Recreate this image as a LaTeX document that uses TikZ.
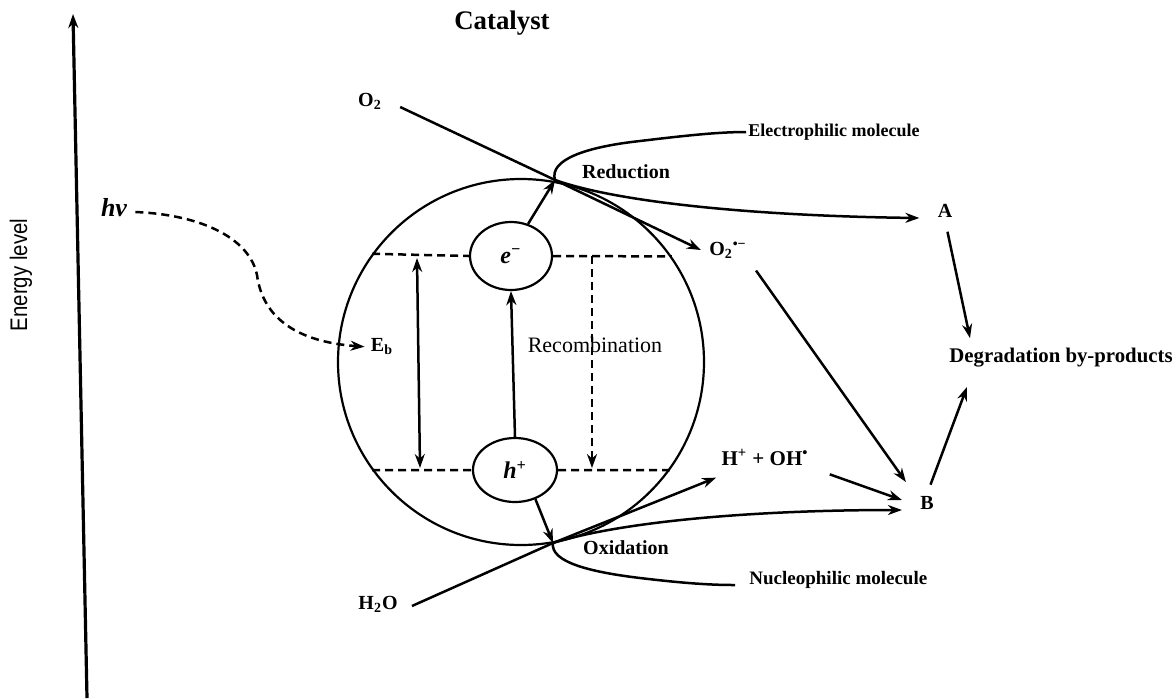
\documentclass[tikz,border=0pt]{standalone}
\usepackage{fontspec}
\setmainfont{Liberation Serif}
\newfontfamily\axisfont{Liberation Sans}
\usetikzlibrary{arrows.meta,shapes.geometric,calc}
\begin{document}
\begin{tikzpicture}[x=0.5pt,y=-0.5pt,
  >={Stealth[length=7pt,width=5pt]},
  ln/.style={line width=1.25pt},
  dsh/.style={line width=1.25pt, dash pattern=on 4pt off 2.5pt},
  lbl/.style={font=\bfseries\fontsize{10}{12}\selectfont, inner sep=1pt},
  carrier/.style={ellipse, draw, line width=1.1pt, inner sep=0pt, font=\bfseries\itshape\fontsize{12}{14}\selectfont},
]
\useasboundingbox (0,0) rectangle (1174,698);

% energy axis
\coordinate (axb) at (87,698);
\coordinate (axt) at (73,14);
\draw[line width=1.6pt,->] (axb) -- (axt);
\node[rotate=90, inner sep=0pt] (elev) at (21,275) {\scalebox{0.85}[1]{\axisfont\fontsize{12}{14}\selectfont Energy level}};

% title
\node[font=\bfseries\fontsize{13.4}{15}\selectfont] (catl) at (502,23) {Catalyst};

% catalyst particle
\node[circle, draw, line width=1.1pt, minimum size=183pt, inner sep=0pt] (cat) at (521,362) {};
\node[carrier, minimum width=41pt, minimum height=34pt] (el) at (511,256) {e\textsuperscript{−}};
\node[carrier, minimum width=42pt, minimum height=32pt] (ho) at (515,470) {h\textsuperscript{+}};

% band levels
\draw[dsh] (cat.144.6) -- (el.west);
\draw[dsh] (el.east) -- (cat.35.4);
\draw[dsh] (cat.216.2) -- (ho.west);
\draw[dsh] (ho.east) -- (cat.-36.2);

% band gap
\coordinate (eg1) at (417,258);
\coordinate (eg2) at (420,468);
\draw[ln,<->] (eg1) -- (eg2);
\node[lbl] (eb) at (382,347) {E\textsubscript{b}};

% excitation and recombination
\draw[ln,->] (ho.north) -- (el.south);
\coordinate (rc1) at (592,256);
\coordinate (rc2) at (592,468);
\draw[dsh,->] (rc1) -- (rc2);
\node[font=\fontsize{11}{13}\selectfont, inner sep=1pt] (recl) at (595,345) {Recombination};

% photon
\node[font=\bfseries\itshape\fontsize{13}{15}\selectfont, inner sep=1pt] (hv) at (114,208) {hv};
\draw[dsh,->,shorten >=2pt] ($(hv.east)+(6,4)$) .. controls (205,215) and (250,240) .. (257,275)
   .. controls (263,320) and (300,342) .. (eb.west);

% reduction side
\coordinate (R) at (555,180);
\draw[ln,->] (el.62) -- (R);
\node[lbl] (o2) at (370,101) {O\textsubscript{2}};
\node[lbl] (o2r) at (728,250) {O\textsubscript{2}\textsuperscript{•−}};
\draw[ln,->] ($(o2.east)+(16,6)$) -- (R) -- ($(o2r.west)+(-6,0)$);
\node[lbl] (redl) at (626,172) {Reduction};
\node[font=\bfseries\fontsize{9}{11}\selectfont, inner sep=1pt, anchor=west] (elec) at (746,132) {Electrophilic molecule};
\draw[ln] (R) .. controls (549,160) and (585,147) .. (640,141)
   .. controls (690,135) and (720,132) .. (elec.west);
\node[lbl] (A) at (945,211) {A};
\draw[ln,->] (R) .. controls (620,203) and (760,216) .. ($(A.west)+(-16,7)$);

% oxidation side
\coordinate (X) at (553,543);
\draw[ln,->] (ho.-55) -- (X);
\node[lbl] (h2o) at (378,604) {H\textsubscript{2}O};
\node[font=\bfseries\fontsize{10.5}{12}\selectfont, inner sep=1pt] (hoh) at (765,457) {H\textsuperscript{+} + OH\textsuperscript{•}};
\draw[ln,->] ($(h2o.east)+(12,2)$) -- (X) -- ($(hoh.south west)+(-3,10)$);
\node[lbl] (oxl) at (626,548) {Oxidation};
\node[font=\bfseries\fontsize{9.5}{11}\selectfont, inner sep=1pt, anchor=west] (nuc) at (747,580) {Nucleophilic molecule};
\draw[ln] (X) .. controls (550,562) and (590,572) .. (640,578)
   .. controls (690,584) and (715,585) .. ($(nuc.west)+(-12,5)$);
\node[lbl] (B) at (927,503) {B};
\draw[ln,->] (X) .. controls (620,522) and (750,510) .. ($(B.west)+(-16,7)$);

% products
\node[font=\bfseries\fontsize{10.4}{12}\selectfont, inner sep=1pt, anchor=west] (deg) at (947,358) {Degradation by-products};
\draw[ln,->,shorten <=6pt] (o2r.south east) -- ($(B.north west)+(-12,-12)$);
\draw[ln,->,shorten <=10pt] (hoh.south east) -- ($(B.west)+(-16,-3)$);
\draw[ln,->,shorten <=6pt] (A.south) -- ($(deg.north west)+(23,-8)$);
\draw[ln,->,shorten <=5pt] (B.north) -- ($(deg.south west)+(20,17)$);
\end{tikzpicture}
\end{document}
